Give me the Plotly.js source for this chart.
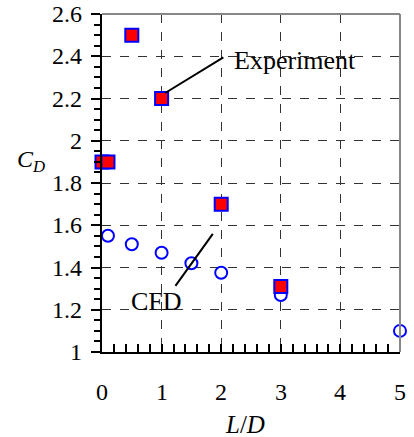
<!DOCTYPE html>
<html>
<head>
<meta charset="utf-8">
<script src="https://cdn.plot.ly/plotly-3.0.1.min.js"></script>
<style>html,body{margin:0;padding:0;background:#fff}#chart{width:414px;height:437px}</style>
</head>
<body>
<div id="chart"></div>
<script>
// Data
var expLD = [0, 0.1, 0.5, 1, 2, 3];
var expCD = [1.9, 1.9, 2.5, 2.2, 1.7, 1.31];
var cfdLD = [0.1, 0.5, 1, 1.5, 2, 3, 5];
var cfdCD = [1.55, 1.51, 1.47, 1.42, 1.375, 1.27, 1.1];
var xTicks = [0, 1, 2, 3, 4, 5];
var yTicks = [1, 1.2, 1.4, 1.6, 1.8, 2, 2.2, 2.4, 2.6];

var FONT = 'Times New Roman';

var traces = [
  {
    x: cfdLD, y: cfdCD, type: 'scatter', mode: 'markers', name: 'CFD',
    cliponaxis: false,
    marker: {symbol: 'circle', size: 12, color: '#ffffff', line: {color: '#0000ff', width: 2}}
  },
  {
    x: expLD, y: expCD, type: 'scatter', mode: 'markers', name: 'Experiment',
    cliponaxis: false,
    marker: {symbol: 'square', size: 13, color: '#ff0000', line: {color: '#0000ff', width: 2}}
  }
];

// Tick labels drawn as text annotations placed on the axis scales
var tickAnn = [];
xTicks.forEach(function (v) {
  tickAnn.push({xref: 'x', yref: 'paper', x: v, y: 0, yshift: -40, text: String(v), showarrow: false,
    xanchor: 'center', yanchor: 'middle', font: {family: FONT, size: 24, color: '#000'}});
});
yTicks.forEach(function (v) {
  tickAnn.push({xref: 'paper', yref: 'y', x: 0, y: v, xshift: -18, text: String(v), showarrow: false,
    xanchor: 'right', yanchor: 'middle', font: {family: FONT, size: 24, color: '#000'}});
});

var layout = {
  width: 414, height: 437,
  margin: {l: 102, r: 14, t: 14, b: 85},
  paper_bgcolor: '#fff', plot_bgcolor: '#fff',
  showlegend: false,
  font: {family: FONT, color: '#000'},
  xaxis: {
    range: [0, 5], tickmode: 'array', tickvals: xTicks, showticklabels: false,
    showgrid: true, gridcolor: '#333', gridwidth: 1, griddash: 'dash',
    zeroline: false, showline: true, linecolor: '#000', linewidth: 2,
    ticks: 'inside', ticklen: 8, tickcolor: '#000', tickwidth: 2,
    minor: {tickmode: 'linear', tick0: 0, dtick: 0.2, ticks: 'inside', ticklen: 8, tickcolor: '#000', tickwidth: 2, showgrid: false}
  },
  yaxis: {
    range: [1, 2.6], tickmode: 'array', tickvals: yTicks, showticklabels: false,
    showgrid: true, gridcolor: '#333', gridwidth: 1, griddash: 'dash',
    zeroline: false, showline: true, linecolor: '#000', linewidth: 2,
    ticks: 'outside', ticklen: 9, tickcolor: '#000', tickwidth: 2,
    minor: {tickmode: 'linear', tick0: 1, dtick: 0.05, ticks: 'outside', ticklen: 6, tickcolor: '#000', tickwidth: 2, showgrid: false}
  },
  shapes: [
    {type: 'line', xref: 'paper', yref: 'paper', x0: 0, x1: 1, y0: 1, y1: 1, line: {color: '#888', width: 2}, layer: 'above'},
    {type: 'line', xref: 'paper', yref: 'paper', x0: 1, x1: 1, y0: 0, y1: 1, line: {color: '#888', width: 2}, layer: 'above'},
    {type: 'line', xref: 'x', yref: 'y', x0: 1.06, y0: 2.226, x1: 2.036, y1: 2.395, line: {color: '#000', width: 2}, layer: 'above'},
    {type: 'line', xref: 'x', yref: 'y', x0: 1.232, y0: 1.313, x1: 1.859, y1: 1.559, line: {color: '#000', width: 2}, layer: 'above'}
  ],
  annotations: tickAnn.concat([
    {xref: 'x', yref: 'y', x: 2.177, y: 2.379, text: 'Experiment', showarrow: false,
     xanchor: 'left', yanchor: 'middle', font: {family: FONT, size: 26, color: '#000'}},
    {xref: 'x', yref: 'y', x: 0.909, y: 1.238, text: 'CFD', showarrow: false,
     xanchor: 'center', yanchor: 'middle', font: {family: FONT, size: 26, color: '#000'}},
    {xref: 'paper', yref: 'paper', x: -0.238, y: 0.565, text: '<i>C</i><sub><i>D</i></sub>', showarrow: false,
     xanchor: 'center', yanchor: 'middle', font: {family: FONT, size: 24, color: '#000'}},
    {xref: 'paper', yref: 'paper', x: 0.48, y: 0, yshift: -72, text: '<i>L</i>/<i>D</i>', showarrow: false,
     xanchor: 'center', yanchor: 'middle', font: {family: FONT, size: 25, color: '#000'}}
  ])
};

Plotly.newPlot('chart', traces, layout, {staticPlot: true, displayModeBar: false});
</script>
</body>
</html>
